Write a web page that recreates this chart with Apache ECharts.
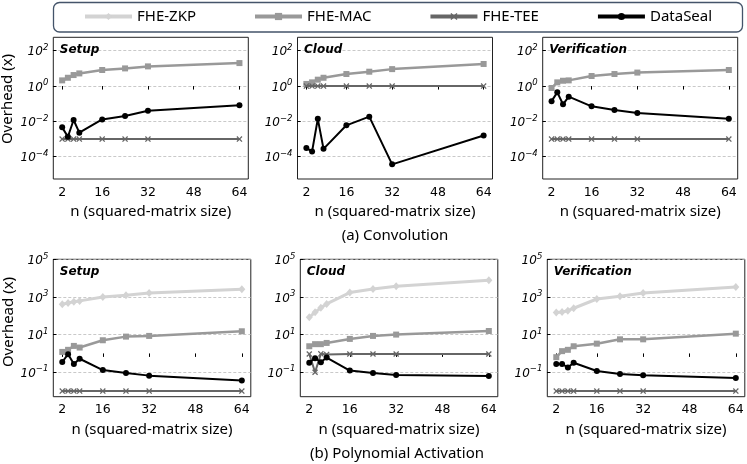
<!DOCTYPE html>
<html>
<head>
<meta charset="utf-8">
<script src="https://cdn.jsdelivr.net/npm/echarts@6/dist/echarts.min.js"></script>
<style>
  html, body { margin: 0; padding: 0; background: #fff; }
  #chart { width: 747px; height: 464px; }
</style>
</head>
<body>
<div id="chart"></div>
<script>
// matrix sizes on the x axis
let sizes = [2, 4, 6, 8, 16, 24, 32, 64];
let xTicks = [2, 16, 32, 48, 64];
// y ticks are powers of ten (exponents)
let convExpTicks = [-4, -2, 0, 2];
let polyExpTicks = [-1, 1, 3, 5];
let phases = ['Setup', 'Cloud', 'Verification'];
let names = ['FHE-ZKP', 'FHE-MAC', 'FHE-TEE', 'DataSeal'];

// (a) Convolution, overhead (x)
let convSetupMac = [2.1, 2.95, 4.2, 5.2, 8.1, 10, 13, 20];
let convSetupTee = [0.001, 0.001, 0.001, 0.001, 0.001, 0.001, 0.001, 0.001];
let convSetupDs = [0.0046, 0.00135, 0.012, 0.0023, 0.013, 0.020, 0.040, 0.081];

let convCloudMac = [1.32, 1.62, 2.3, 2.95, 4.8, 6.5, 9.1, 17.8];
let convCloudTee = [1, 1, 1, 1, 1, 1, 1, 1];
let convCloudDs = [0.00031, 0.0002, 0.014, 0.00028, 0.006, 0.0186, 0.000037, 0.0016];

let convVerifMac = [0.78, 1.62, 2.0, 2.1, 3.7, 4.8, 5.8, 8.1];
let convVerifTee = [0.001, 0.001, 0.001, 0.001, 0.001, 0.001, 0.001, 0.001];
let convVerifDs = [0.14, 0.44, 0.093, 0.25, 0.071, 0.044, 0.030, 0.014];

// (b) Polynomial Activation, overhead (x)
let polySetupZkp = [407, 479, 562, 617, 1000, 1230, 1620, 2570];
let polySetupMac = [1.2, 1.55, 2.5, 2.05, 5.0, 7.8, 8.5, 15];
let polySetupTee = [0.01, 0.01, 0.01, 0.01, 0.01, 0.01, 0.01, 0.01];
let polySetupDs = [0.35, 0.91, 0.275, 0.52, 0.13, 0.091, 0.066, 0.036];

let polyCloudZkp = [83, 155, 263, 427, 1700, 2630, 3720, 7760];
let polyCloudMac = [2.4, 3.1, 3.1, 3.6, 5.9, 8.5, 10, 15.5];
let polyCloudTee = [0.93, 0.1, 0.95, 0.88, 0.93, 0.93, 0.93, 0.93];
let polyCloudDs = [0.32, 0.55, 0.34, 0.6, 0.123, 0.091, 0.072, 0.063];

let polyVerifZkp = [148, 158, 186, 251, 776, 1100, 1620, 3390];
let polyVerifMac = [0.63, 1.32, 1.55, 2.4, 3.3, 5.6, 5.6, 11.2];
let polyVerifTee = [0.01, 0.01, 0.01, 0.01, 0.01, 0.01, 0.01, 0.01];
let polyVerifDs = [0.275, 0.275, 0.178, 0.32, 0.117, 0.081, 0.069, 0.05];

let panels = [
  [null, convSetupMac, convSetupTee, convSetupDs],
  [null, convCloudMac, convCloudTee, convCloudDs],
  [null, convVerifMac, convVerifTee, convVerifDs],
  [polySetupZkp, polySetupMac, polySetupTee, polySetupDs],
  [polyCloudZkp, polyCloudMac, polyCloudTee, polyCloudDs],
  [polyVerifZkp, polyVerifMac, polyVerifTee, polyVerifDs]
];

let crossPath = 'path://M1.5,0L5,3.5L8.5,0L10,1.5L6.5,5L10,8.5L8.5,10L5,6.5L1.5,10L0,8.5L3.5,5L0,1.5Z';
let styles = [
  { color: '#d3d3d3', width: 3, symbol: 'diamond', size: [7, 8] },
  { color: '#999999', width: 2.5, symbol: 'rect', size: 6 },
  { color: '#666666', width: 2, symbol: crossPath, size: 6 },
  { color: '#000000', width: 2, symbol: 'circle', size: 6 }
];

// panel frames (px)
let topLefts = [53.3, 297.5, 542.7];
let botLefts = [53.3, 300.3, 547.3];

let tickFont = 'DejaVu Sans';
let textFont = 'Noto Sans';

let expLabel = function (v) {
  let e = v < 0 ? '\u2212' + (-v) : String(v);
  return '{b|10}{s|' + e + '}';
};

let grids = [], xAxes = [], yAxes = [], series = [], titles = [];
for (let p = 0; p < 6; p++) {
  let row = p < 3 ? 0 : 1;
  let col = p % 3;
  grids.push({
    left: row === 0 ? topLefts[col] : botLefts[col],
    top: row === 0 ? 37.3 : 259.3,
    width: row === 0 ? 195 : 197.5,
    height: row === 0 ? 141.7 : 137.4,
    show: true,
    borderColor: '#222',
    borderWidth: 1,
    backgroundColor: '#fff'
  });
  xAxes.push({
    gridIndex: p,
    type: 'value',
    min: -1.1,
    max: 67.1,
    name: 'n (squared-matrix size)',
    nameLocation: 'middle',
    nameGap: row === 0 ? 25 : 26,
    nameTextStyle: { fontFamily: textFont, fontSize: 15, color: '#000' },
    axisLine: { show: false },
    axisTick: { show: true, length: 3.5, lineStyle: { color: '#000' }, customValues: xTicks },
    axisLabel: { customValues: xTicks, margin: 7, fontFamily: tickFont, fontSize: 12.5, color: '#000' },
    splitLine: { show: false }
  });
  let ticks = row === 0 ? convExpTicks : polyExpTicks;
  yAxes.push({
    gridIndex: p,
    type: 'value',
    min: row === 0 ? -5.26 : -2.3,
    max: row === 0 ? 2.76 : 5,
    axisLine: { show: false },
    axisTick: { show: true, length: 3.5, lineStyle: { color: '#000' }, customValues: ticks },
    axisLabel: {
      customValues: ticks,
      margin: 5,
      formatter: expLabel,
      rich: {
        b: { fontFamily: tickFont, fontStyle: 'italic', fontSize: 12, color: '#000', verticalAlign: 'bottom' },
        s: { fontFamily: tickFont, fontStyle: 'italic', fontSize: 8.5, color: '#000', verticalAlign: 'bottom', padding: [0, 0, 6, 0] }
      }
    },
    splitLine: { show: true, lineStyle: { color: '#bbbbbb', type: [3, 2], width: 0.8 } }
  });
  for (let s = 0; s < 4; s++) {
    let vals = panels[p][s];
    if (!vals) continue;
    let st = styles[s];
    series.push({
      name: names[s],
      type: 'line',
      xAxisIndex: p,
      yAxisIndex: p,
      data: sizes.map(function (n, i) { return [n, Math.log10(vals[i])]; }),
      symbol: st.symbol,
      symbolSize: st.size,
      showSymbol: true,
      lineStyle: { color: st.color, width: st.width },
      itemStyle: { color: st.color },
      emphasis: { disabled: true },
      animation: false,
      z: 2 + s
    });
  }
  titles.push({
    text: phases[col],
    left: grids[p].left + 6.5,
    top: row === 0 ? 44 : 265.5,
    padding: 0,
    textStyle: { fontFamily: tickFont, fontSize: 12, fontWeight: 'bold', fontStyle: 'italic', color: '#000' }
  });
}

titles.push({
  text: '(a) Convolution', left: 395, top: 228, textAlign: 'center', padding: 0,
  textStyle: { fontFamily: textFont, fontSize: 15, fontWeight: 'normal', color: '#000' }
});
titles.push({
  text: '(b) Polynomial Activation', left: 397, top: 446, textAlign: 'center', padding: 0,
  textStyle: { fontFamily: textFont, fontSize: 15, fontWeight: 'normal', color: '#000' }
});

let chart = echarts.init(document.getElementById('chart'));
chart.setOption({
  backgroundColor: '#fff',
  animation: false,
  title: titles,
  legend: {
    data: names,
    left: 83,
    top: 9,
    itemWidth: 47,
    itemHeight: 9,
    itemGap: 57,
    padding: 0,
    lineStyle: { width: 4 },
    textStyle: { fontFamily: textFont, fontSize: 15, color: '#000' }
  },
  grid: grids,
  xAxis: xAxes,
  yAxis: yAxes,
  series: series,
  graphic: [
    {
      type: 'rect',
      shape: { x: 53.5, y: 2.5, width: 689, height: 29.5, r: 6 },
      style: { fill: 'none', stroke: '#44546a', lineWidth: 1.3 },
      z: 100
    },
    {
      type: 'text',
      x: 8, y: 99, rotation: Math.PI / 2,
      style: { text: 'Overhead (x)', fontFamily: textFont, fontSize: 15, fill: '#000', align: 'center', verticalAlign: 'middle' }
    },
    {
      type: 'text',
      x: 8.5, y: 322, rotation: Math.PI / 2,
      style: { text: 'Overhead (x)', fontFamily: textFont, fontSize: 15, fill: '#000', align: 'center', verticalAlign: 'middle' }
    }
  ]
});
</script>
</body>
</html>
